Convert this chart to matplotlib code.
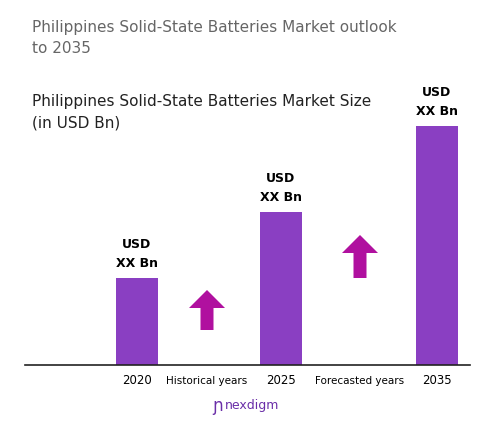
import matplotlib
matplotlib.use("Agg")
import matplotlib.pyplot as plt
from matplotlib.patches import FancyArrow

categories = ["2020", "2025", "2035"]
values = [87, 153, 239]
value_labels = ["USD\nXX Bn", "USD\nXX Bn", "USD\nXX Bn"]
tick_labels = ["2020", "Historical years", "2025", "Forecasted years", "2035"]

W, H = 503, 438
fig = plt.figure(figsize=(W/100, H/100), dpi=100)
base = 365
ax = fig.add_axes([0, 1-base/H, 1, base/H])
ax.set_xlim(0, W); ax.set_ylim(0, base)
ax.axis("off")

xpos = [137, 281, 437]
ax.bar(xpos, values, width=42, color="#8A3FC2")
for x, v, t in zip(xpos, values, value_labels):
    ax.text(x, v+8, t, ha="center", va="bottom", fontsize=9, fontweight="bold", linespacing=1.6)
ax.plot([25, 470], [0, 0], color="#222222", lw=1.2, clip_on=False)

for x, y0, y1 in [(207, 35, 75), (360, 87, 130)]:
    ax.add_patch(FancyArrow(x, y0, 0, y1-y0, width=13, head_width=36, head_length=18,
                            length_includes_head=True, color="#B0109F", lw=0))

tick_x = [137, 207, 281, 360, 437]
for x, t in zip(tick_x, tick_labels):
    fs = 8.5 if t.isdigit() else 7.5
    fig.text(x/W, 1-381/H, t, ha="center", va="center", fontsize=fs)

fig.text(32/W, 1-38/H, "Philippines Solid-State Batteries Market outlook\nto 2035",
         fontsize=11, color="#666666", va="center", ha="left", linespacing=1.5)
fig.text(32/W, 1-112/H, "Philippines Solid-State Batteries Market Size\n(in USD Bn)",
         fontsize=11, color="#222222", va="center", ha="left", linespacing=1.5)
fig.text(218/W, 1-406/H, "ɲ", fontsize=12, color="#6A2EA8", ha="center", va="center")
fig.text(252/W, 1-406/H, "nexdigm", fontsize=9, color="#6A2EA8", ha="center", va="center")
fig.savefig("out.png", dpi=100)
